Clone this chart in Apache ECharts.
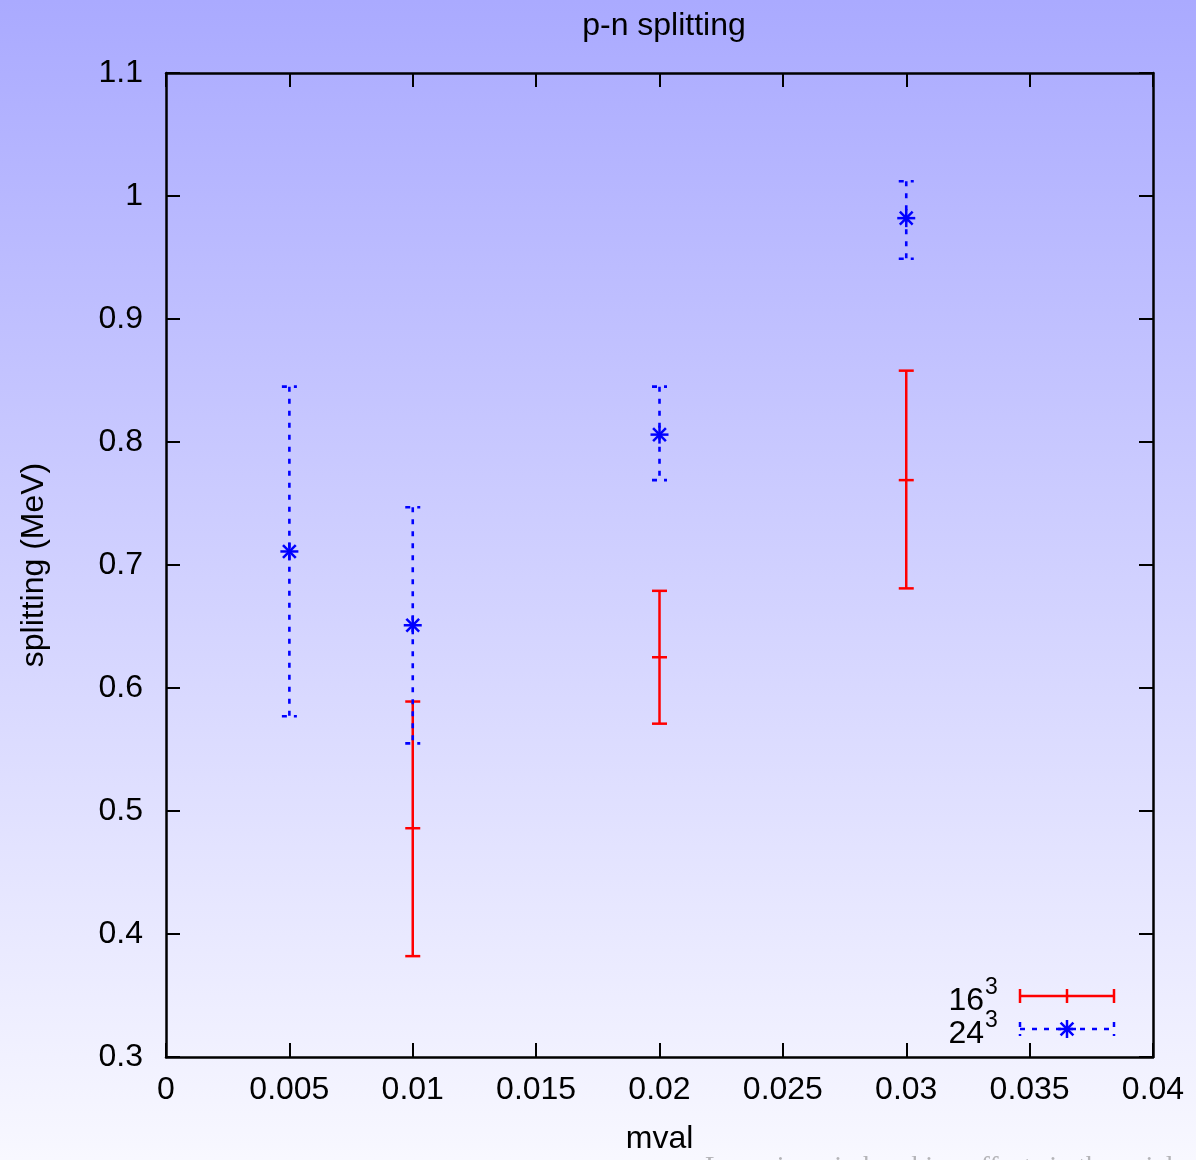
<!DOCTYPE html>
<html>
<head>
<meta charset="utf-8">
<script src="https://cdn.jsdelivr.net/npm/echarts@6/dist/echarts.min.js"></script>
<style>
html, body { margin: 0; padding: 0; overflow: hidden; }
#graph { width: 1196px; height: 1160px; }
</style>
</head>
<body>
<div id="graph"></div>
<script>
// 16^3 lattice
const mval16 = [0.01, 0.02, 0.03];
const split16 = [0.486, 0.625, 0.769];
const low16 = [0.382, 0.571, 0.681];
const high16 = [0.589, 0.679, 0.858];

// 24^3 lattice
const mval24 = [0.005, 0.01, 0.02, 0.03];
const split24 = [0.711, 0.651, 0.806, 0.982];
const low24 = [0.577, 0.555, 0.769, 0.949];
const high24 = [0.845, 0.747, 0.845, 1.012];

const FONT = "'Liberation Sans', Arial, sans-serif";
const FS = 32;

function rows(xs, c, lo, hi) {
    return xs.map((x, i) => [x, c[i], lo[i], hi[i]]);
}

function starLines(cx, cy, color) {
    const s = 9, d = 6.4;
    const solid = () => ({ stroke: color, lineWidth: 2.5 });
    return [
        { type: 'line', shape: { x1: cx - s, y1: cy, x2: cx + s, y2: cy }, style: solid() },
        { type: 'line', shape: { x1: cx, y1: cy - s, x2: cx, y2: cy + s }, style: solid() },
        { type: 'line', shape: { x1: cx - d, y1: cy - d, x2: cx + d, y2: cy + d }, style: solid() },
        { type: 'line', shape: { x1: cx - d, y1: cy + d, x2: cx + d, y2: cy - d }, style: solid() }
    ];
}

function errorBars(color, dashed, star) {
    return function (params, api) {
        const x = api.value(0);
        const c = api.coord([x, api.value(1)]);
        const lo = api.coord([x, api.value(2)]);
        const hi = api.coord([x, api.value(3)]);
        const w = 7.5;
        const st = () => ({ stroke: color, lineWidth: dashed ? 2.6 : 2.5, lineDash: dashed ? [5, 7] : [] });
        const kids = [
            { type: 'line', shape: { x1: c[0], y1: hi[1], x2: c[0], y2: lo[1] }, style: st() },
            { type: 'line', shape: { x1: c[0] - w, y1: hi[1], x2: c[0] + w, y2: hi[1] }, style: st() },
            { type: 'line', shape: { x1: c[0] - w, y1: lo[1], x2: c[0] + w, y2: lo[1] }, style: st() }
        ];
        if (star) {
            kids.push(...starLines(c[0], c[1], color));
        } else {
            kids.push({ type: 'line', shape: { x1: c[0] - w, y1: c[1], x2: c[0] + w, y2: c[1] }, style: { stroke: color, lineWidth: 2.5 } });
        }
        return { type: 'group', children: kids };
    };
}

function axisBase(extra) {
    return Object.assign({
        type: 'value',
        axisLine: { show: true, onZero: false, lineStyle: { color: '#000', width: 2.5 } },
        axisTick: { show: true, inside: true, length: 14, lineStyle: { color: '#000', width: 2 } },
        splitLine: { show: false },
        axisLabel: { show: false }
    }, extra);
}

function legendSample(y, color, dashed, star) {
    const x1 = 1020, x2 = 1114, xm = 1067;
    const st = () => ({ stroke: color, lineWidth: 2.5, lineDash: dashed ? [5, 7] : [] });
    const out = [
        { type: 'line', shape: { x1: x1, y1: y, x2: x2, y2: y }, style: st() },
        { type: 'line', shape: { x1: x1, y1: y - 7, x2: x1, y2: y + 7 }, style: st() },
        { type: 'line', shape: { x1: x2, y1: y - 7, x2: x2, y2: y + 7 }, style: st() }
    ];
    if (star) {
        out.push(...starLines(xm, y, color));
    } else {
        out.push({ type: 'line', shape: { x1: xm, y1: y - 7, x2: xm, y2: y + 7 }, style: { stroke: color, lineWidth: 2.5 } });
    }
    return out;
}

const option = {
    animation: false,
    backgroundColor: {
        type: 'linear', x: 0, y: 0, x2: 0, y2: 1,
        colorStops: [{ offset: 0, color: '#aaaaff' }, { offset: 1, color: '#f8f8ff' }]
    },
    title: {
        text: 'p-n splitting',
        left: 659, top: 5, textAlign: 'center',
        textStyle: { fontFamily: FONT, fontSize: FS, fontWeight: 'normal', color: '#000' }
    },
    grid: { left: 166, top: 73, width: 987, height: 987 },
    xAxis: [
        axisBase({
            min: 0, max: 0.04, interval: 0.005, position: 'bottom',
            name: 'mval', nameLocation: 'middle', nameGap: 66,
            nameTextStyle: { fontFamily: FONT, fontSize: FS, color: '#000' },
            axisLabel: {
                show: true, margin: 17, color: '#000', fontFamily: FONT, fontSize: FS,
                formatter: v => String(parseFloat(v.toFixed(4)))
            }
        }),
        axisBase({ min: 0, max: 0.04, interval: 0.005, position: 'top' })
    ],
    yAxis: [
        axisBase({
            min: 0.3, max: 1.1, interval: 0.1, position: 'left',
            name: 'splitting (MeV)', nameLocation: 'middle', nameGap: 116,
            nameTextStyle: { fontFamily: FONT, fontSize: FS, color: '#000' },
            axisLabel: {
                show: true, margin: 23, color: '#000', fontFamily: FONT, fontSize: FS,
                formatter: v => String(parseFloat(v.toFixed(2)))
            }
        }),
        axisBase({ min: 0.3, max: 1.1, interval: 0.1, position: 'right' })
    ],
    graphic: [
        { type: 'text', x: 984, y: 1001, style: { text: '16', fill: '#000', font: FS + 'px ' + FONT, textAlign: 'right', textVerticalAlign: 'middle' } },
        { type: 'text', x: 985, y: 988, style: { text: '3', fill: '#000', font: '23px ' + FONT, textAlign: 'left', textVerticalAlign: 'middle' } },
        { type: 'text', x: 984, y: 1034, style: { text: '24', fill: '#000', font: FS + 'px ' + FONT, textAlign: 'right', textVerticalAlign: 'middle' } },
        { type: 'text', x: 985, y: 1021, style: { text: '3', fill: '#000', font: '23px ' + FONT, textAlign: 'left', textVerticalAlign: 'middle' } },
        ...legendSample(996, '#ff0000', false, false),
        ...legendSample(1029, '#0000ff', true, true),
        { type: 'text', x: 705, y: 1182, style: { text: 'Large isospin breaking effects in the axial', fill: '#b4b4b8', font: '28px "Liberation Serif", serif', textAlign: 'left', textVerticalAlign: 'bottom' } }
    ],
    series: [
        {
            name: '16^3', type: 'custom', xAxisIndex: 0, yAxisIndex: 0,
            renderItem: errorBars('#ff0000', false, false),
            encode: { x: 0, y: [1, 2, 3] },
            data: rows(mval16, split16, low16, high16)
        },
        {
            name: '24^3', type: 'custom', xAxisIndex: 0, yAxisIndex: 0,
            renderItem: errorBars('#0000ff', true, true),
            encode: { x: 0, y: [1, 2, 3] },
            data: rows(mval24, split24, low24, high24)
        }
    ]
};

const container = document.getElementById('graph');
const myChart = echarts.init(container);
myChart.setOption(option);
</script>
</body>
</html>
